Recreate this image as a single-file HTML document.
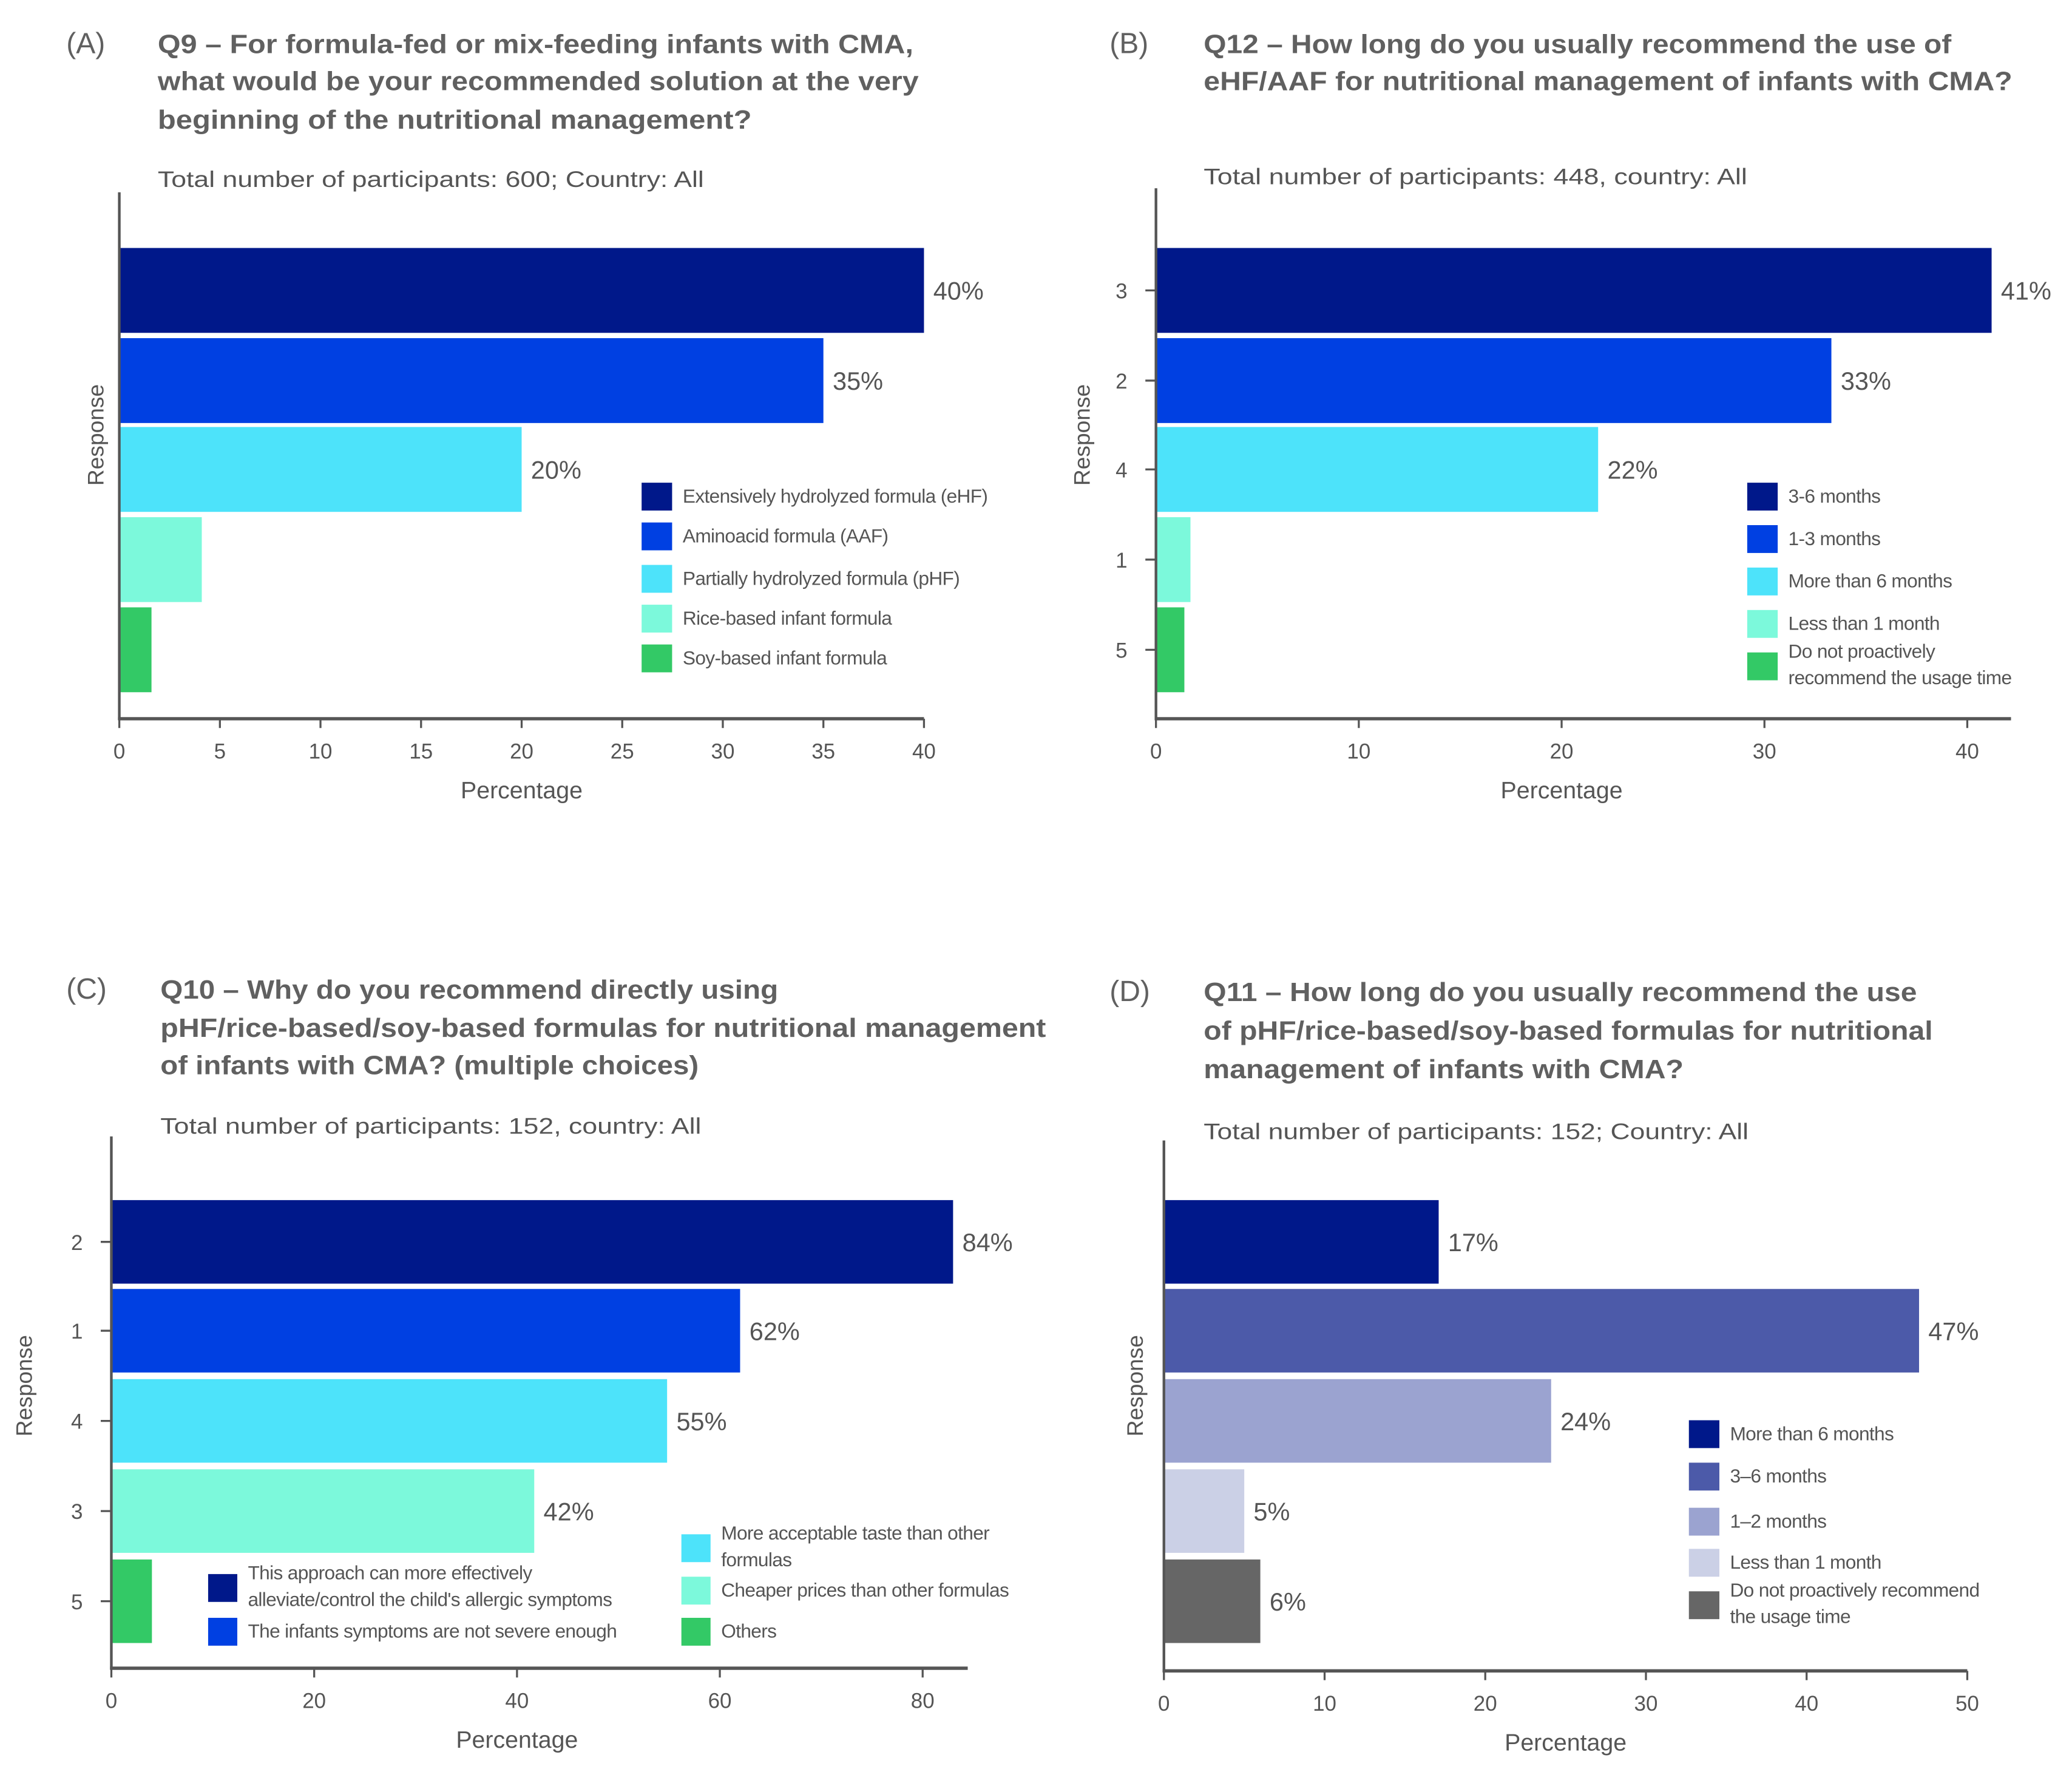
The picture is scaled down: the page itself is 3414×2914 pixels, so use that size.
<!DOCTYPE html>
<html><head><meta charset="utf-8">
<style>
html,body{margin:0;padding:0;background:#fff;}
svg{display:block;}
text{font-family:"Liberation Sans",sans-serif;fill:#555;}
.ttl{font-weight:bold;font-size:20px;fill:#606060;}
.sub{font-size:17px;fill:#555;}
.tick{font-size:16px;fill:#555;}
.val{font-size:19px;fill:#555;}
.leg{font-size:14.5px;fill:#555;}
</style></head>
<body>
<svg id="fig" width="3414" height="2914" viewBox="0 0 1563 1334" preserveAspectRatio="none" xmlns="http://www.w3.org/2000/svg"></svg>
<script>
// Panel A data
const aValues = [40, 35, 20, 4.1, 1.6];
const aLabels = ["40%", "35%", "20%", "", ""];
const aTicks = [0, 5, 10, 15, 20, 25, 30, 35, 40];
const aCats = ["", "", "", "", ""];
const aLegend = ["Extensively hydrolyzed formula (eHF)", "Aminoacid formula (AAF)", "Partially hydrolyzed formula (pHF)", "Rice-based infant formula", "Soy-based infant formula"];
// Panel B data
const bValues = [41.2, 33.3, 21.8, 1.7, 1.4];
const bLabels = ["41%", "33%", "22%", "", ""];
const bTicks = [0, 10, 20, 30, 40];
const bCats = ["3", "2", "4", "1", "5"];
const bLegend = ["3-6 months", "1-3 months", "More than 6 months", "Less than 1 month", "Do not proactively|recommend the usage time"];
// Panel C data
const cValues = [83, 62, 54.8, 41.7, 4];
const cLabels = ["84%", "62%", "55%", "42%", ""];
const cTicks = [0, 20, 40, 60, 80];
const cCats = ["2", "1", "4", "3", "5"];
const cLegend = ["This approach can more effectively|alleviate/control the child's allergic symptoms", "The infants symptoms are not severe enough", "More acceptable taste than other|formulas", "Cheaper prices than other formulas", "Others"];
// Panel D data
const dValues = [17.1, 47, 24.1, 5, 6];
const dLabels = ["17%", "47%", "24%", "5%", "6%"];
const dTicks = [0, 10, 20, 30, 40, 50];
const dCats = ["", "", "", "", ""];
const dLegend = ["More than 6 months", "3\u20136 months", "1\u20132 months", "Less than 1 month", "Do not proactively recommend|the usage time"];

const palBlue = ["#00188a", "#0040e2", "#4de3fa", "#7cf9db", "#33c966"];
const palPurple = ["#00188a", "#4c5aa9", "#9ba3d0", "#cbd0e6", "#666666"];

const NS = "http://www.w3.org/2000/svg";
const svg = document.getElementById("fig");
function el(tag, attrs, parent, txt) {
  const e = document.createElementNS(NS, tag);
  for (const k in attrs) e.setAttribute(k, attrs[k]);
  if (txt !== undefined) e.textContent = txt;
  (parent || svg).appendChild(e);
  return e;
}

function panel(cfg) {
  const g = el("g", {});
  
  
  const lt = el("text", {x: cfg.letterX, y: cfg.titleY[0], class: "ttl", style: "font-weight:normal;font-size:22px"}, g, cfg.letter);
  
  
  cfg.title.forEach((t, i) => {
    const e = el("text", {x: cfg.titleX, y: cfg.titleY[i], class: "ttl", textLength: cfg.titleW[i], lengthAdjust: "spacingAndGlyphs"}, g, t);
    
    
  });
  const st = el("text", {x: cfg.titleX, y: cfg.subY, class: "sub", textLength: cfg.subW, lengthAdjust: "spacingAndGlyphs"}, g, cfg.sub);
  
  

  const xs = v => cfg.x0 + (v - cfg.tickVals[0]) * (cfg.xMaxPx - cfg.x0) / (cfg.xMax - cfg.tickVals[0]);
  cfg.values.forEach((v, i) => {
    const y0 = cfg.barY[i];
    const r = el("rect", {x: cfg.x0, y: y0, width: Math.max(0, xs(v) - cfg.x0), height: cfg.barH, fill: cfg.colors[i]}, g);
    
    
    if (cfg.labels[i]) {
      const t = el("text", {x: xs(v) + 7, y: y0 + cfg.barH / 2 + 7, class: "val"}, g, cfg.labels[i]);
      
      
    }
    if (cfg.cats[i]) {
      const cy = y0 + cfg.barH / 2;
      const tk = el("line", {x1: cfg.x0 - 8, x2: cfg.x0, y1: cy, y2: cy, stroke: "#555", "stroke-width": 1.5}, g);
      
      
      const t = el("text", {x: cfg.x0 - 26, y: cy + 6, class: "tick", "text-anchor": "middle"}, g, cfg.cats[i]);
      
      
    }
  });
  const ya = el("line", {x1: cfg.x0, x2: cfg.x0, y1: cfg.yTop, y2: cfg.axisY + 1, stroke: "#555", "stroke-width": 2}, g);
  
  
  const xa = el("line", {x1: cfg.x0 - 1, x2: cfg.axisEnd, y1: cfg.axisY, y2: cfg.axisY, stroke: "#555", "stroke-width": 2.5}, g);
  
  
  cfg.tickVals.forEach(v => {
    const l = el("line", {x1: xs(v), x2: xs(v), y1: cfg.axisY, y2: cfg.axisY + 7, stroke: "#555", "stroke-width": 1.5}, g);
    
    
    const t = el("text", {x: xs(v), y: cfg.axisY + 30, class: "tick", "text-anchor": "middle"}, g, String(v));
    
    
  });
  const xt = el("text", {x: (cfg.x0 + xs(cfg.xMax)) / 2, y: cfg.axisY + 60, class: "tick", "text-anchor": "middle", style: "font-size:18px"}, g, "Percentage");
  
  
  const yt = el("text", {x: 0, y: 0, class: "tick", "text-anchor": "middle", transform: "translate(" + cfg.respX + "," + cfg.respY + ") rotate(-90)", style: "font-size:17px"}, g, "Response");
  
  
  cfg.legend.forEach((txt, i) => {
    const p = cfg.legPos[i];
    const lg = el("g", {}, g);
    
    
    el("rect", {x: p[0], y: p[1], width: cfg.legSq, height: 21, fill: cfg.colors[i]}, lg);
    const parts = txt.split("|");
    parts.forEach((s, k) => {
      const ty = parts.length === 1 ? p[1] + 15 : p[1] + 4 + k * 20;
      el("text", {x: p[0] + cfg.legSq + 8, y: ty, class: "leg", style: "letter-spacing:-0.3px"}, lg, s);
    });
  });
}

const barsTop = [187, 255, 322, 390, 458];
const barsBot = [905, 972, 1040, 1108, 1176];

panel({name: "panel-a-q9", letter: "(A)", letterX: 50, titleX: 119, titleY: [40, 68, 97],
  title: ["Q9 \u2013 For formula-fed or mix-feeding infants with CMA,", "what would be your recommended solution at the very", "beginning of the nutritional management?"],
  titleW: [570, 574, 448], sub: "Total number of participants: 600; Country: All", subY: 141, subW: 412,
  x0: 90, xMaxPx: 697, xMax: 40, tickVals: aTicks, axisY: 542, axisEnd: 697, yTop: 145,
  values: aValues, labels: aLabels, cats: aCats, colors: palBlue, barY: barsTop, barH: 64,
  respX: 78, respY: 328, legend: aLegend, legSq: 23,
  legPos: [[484, 364], [484, 394], [484, 426], [484, 456], [484, 486]]});

panel({name: "panel-b-q12", letter: "(B)", letterX: 837, titleX: 908, titleY: [40, 68],
  title: ["Q12 \u2013 How long do you usually recommend the use of", "eHF/AAF for nutritional management of infants with CMA?"],
  titleW: [564, 610], sub: "Total number of participants: 448, country: All", subY: 139, subW: 410,
  x0: 872, xMaxPx: 1484, xMax: 40, tickVals: bTicks, axisY: 542, axisEnd: 1517, yTop: 142,
  values: bValues, labels: bLabels, cats: bCats, colors: palBlue, barY: barsTop, barH: 64,
  respX: 822, respY: 328, legend: bLegend, legSq: 23,
  legPos: [[1318, 364], [1318, 396], [1318, 428], [1318, 460], [1318, 492]]});

panel({name: "panel-c-q10", letter: "(C)", letterX: 50, titleX: 121, titleY: [753, 782, 810],
  title: ["Q10 \u2013 Why do you recommend directly using", "pHF/rice-based/soy-based formulas for nutritional management", "of infants with CMA? (multiple choices)"],
  titleW: [466, 668, 406], sub: "Total number of participants: 152, country: All", subY: 855, subW: 408,
  x0: 84, xMaxPx: 696, xMax: 80, tickVals: cTicks, axisY: 1258, axisEnd: 730, yTop: 857,
  values: cValues, labels: cLabels, cats: cCats, colors: palBlue, barY: barsBot, barH: 63,
  respX: 24, respY: 1045, legend: cLegend, legSq: 22,
  legPos: [[157, 1187], [157, 1220], [514, 1157], [514, 1189], [514, 1220]]});

panel({name: "panel-d-q11", letter: "(D)", letterX: 837, titleX: 908, titleY: [755, 784, 813],
  title: ["Q11 \u2013 How long do you usually recommend the use", "of pHF/rice-based/soy-based formulas for nutritional", "management of infants with CMA?"],
  titleW: [538, 550, 362], sub: "Total number of participants: 152; Country: All", subY: 859, subW: 411,
  x0: 878, xMaxPx: 1484, xMax: 50, tickVals: dTicks, axisY: 1260, axisEnd: 1484, yTop: 860,
  values: dValues, labels: dLabels, cats: dCats, colors: palPurple, barY: barsBot, barH: 63,
  respX: 862, respY: 1045, legend: dLegend, legSq: 23,
  legPos: [[1274, 1071], [1274, 1103], [1274, 1137], [1274, 1168], [1274, 1200]]});
</script>
</body></html>
